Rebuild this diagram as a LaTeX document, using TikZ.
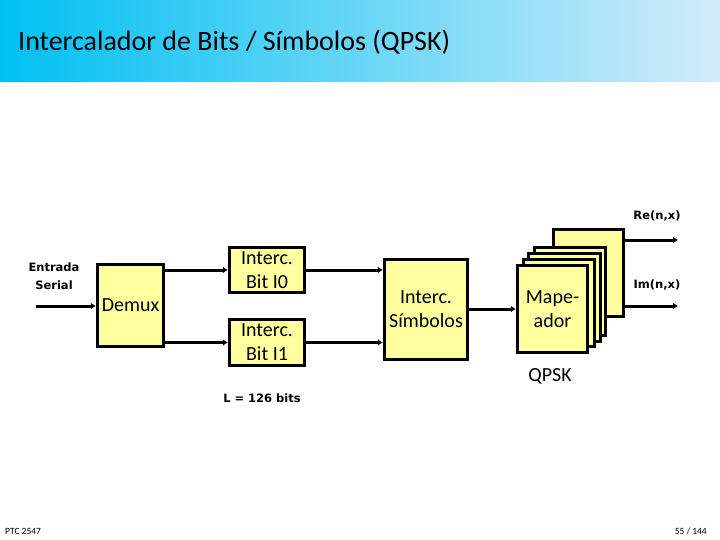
\documentclass[tikz,border=0pt]{standalone}
\usepackage{fontspec}
\setmainfont{Carlito}
\newfontfamily\lblfont{DejaVu Sans}
\usetikzlibrary{arrows.meta}
\definecolor{boxfill}{RGB}{255,255,160}
\definecolor{barleft}{RGB}{0,192,242}
\definecolor{barright}{RGB}{210,236,250}
\tikzset{
  blk/.style={draw=black, line width=3.5pt, fill=boxfill, align=center, font=\fontsize{20}{24}\selectfont, inner sep=0pt},
  conn/.style={line width=3pt, -{Latex[length=5pt,width=7pt]}},
  lbl/.style={font=\lblfont\bfseries\fontsize{11.5}{18}\selectfont, align=center, inner sep=0pt},
  foot/.style={font=\fontsize{9.5}{10}\selectfont, inner sep=0pt}
}
\begin{document}
\begin{tikzpicture}[x=1pt,y=-1pt]
\useasboundingbox (0,0) rectangle (720,540);
\fill[left color=barleft, right color=barright] (0,0) rectangle (720,82);
\node[anchor=west, inner sep=0pt, font=\fontsize{28}{32}\selectfont] (title) at (18,42) {Intercalador de Bits / Símbolos (QPSK)};

\node[blk, minimum width=66pt, minimum height=82pt] (demux) at (130.5,305.5) {Demux};
\node[blk, minimum width=75pt, minimum height=45pt] (i0) at (267,270) {Interc.\\Bit I0};
\node[blk, minimum width=75pt, minimum height=46pt] (i1) at (267,342.5) {Interc.\\Bit I1};
\node[blk, minimum width=83pt, minimum height=100pt] (sim) at (426,309.5) {Interc.\\Símbolos};

\node[blk, minimum width=70pt, minimum height=87pt] (back) at (588.5,273) {};
\node[blk, minimum width=71pt, minimum height=88pt] (m4) at (570,291.5) {};
\node[blk, minimum width=72pt, minimum height=88pt] (m3) at (564.5,297.5) {};
\node[blk, minimum width=71pt, minimum height=87pt] (m2) at (559,303) {};
\node[blk, minimum width=70pt, minimum height=87pt] (map) at (552.5,309) {Mape-\\ador};

\coordinate (in) at (36,306);
\coordinate (reO) at (678,240);
\coordinate (imO) at (678,306);

\draw[conn] (in) -- (demux.west |- in);
\draw[conn] (demux.east |- i0.west) -- (i0.west);
\draw[conn] (demux.east |- i1.west) -- (i1.west);
\draw[conn] (i0.east) -- (i0.east -| sim.west);
\draw[conn] (i1.east) -- (i1.east -| sim.west);
\draw[conn] (sim.east |- map.west) -- (map.west);
\draw[conn] (back.east |- reO) -- (reO);
\draw[conn] (back.east |- imO) -- (imO);

\node[lbl] (entrada) at (54,276) {Entrada\\Serial};
\node[lbl] (re) at (657,216) {Re(n,x)};
\node[lbl] (im) at (657,285) {Im(n,x)};
\node[lbl] (len) at (262,398) {L = 126 bits};
\node[inner sep=0pt, font=\fontsize{20}{24}\selectfont] (qpsk) at (550,376) {QPSK};

\node[foot, anchor=west] (ptc) at (5,531) {PTC 2547};
\node[foot, anchor=east] (page) at (707,531) {55 / 144};
\end{tikzpicture}
\end{document}
